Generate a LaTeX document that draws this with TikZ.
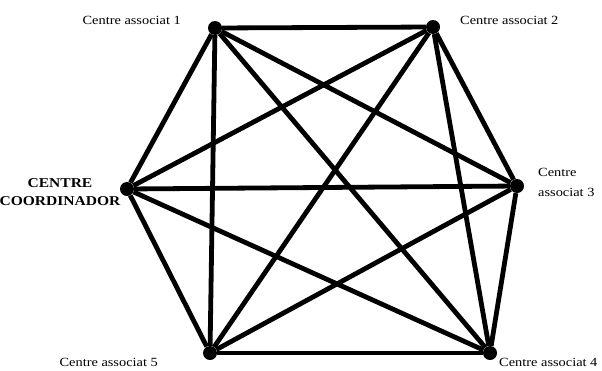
\documentclass[tikz,border=0pt]{standalone}
\usepackage{fontspec}
\setmainfont{Liberation Serif}
\newfontfamily\widefont[FakeStretch=1.15]{Liberation Serif}
\begin{document}
\begin{tikzpicture}[x=1pt,y=-1pt,
  vtx/.style={circle,fill=black,inner sep=0pt,minimum size=14pt},
  edge/.style={line width=4.8pt,black},
  lbl/.style={font=\widefont\fontsize{12.5}{20}\selectfont,inner sep=0pt,align=left},
  blbl/.style={font=\widefont\fontsize{13.5}{18}\bfseries\selectfont,inner sep=0pt,align=center}]
\useasboundingbox (0,0) rectangle (602,370);
\node[vtx] (n1) at (215,28) {};
\node[vtx] (n2) at (433,27) {};
\node[vtx] (n3) at (517,186) {};
\node[vtx] (n4) at (490,353) {};
\node[vtx] (n5) at (210,353) {};
\node[vtx] (c) at (127,189) {};
\foreach \a/\b in {n1/n2,n1/n3,n1/n4,n1/n5,n1/c,n2/n3,n2/n4,n2/n5,n2/c,n3/n4,n3/n5,n3/c,n4/n5,n4/c,n5/c}
  \draw[edge] (\a) -- (\b);
\node[lbl,anchor=base east] (l1) at (181,24) {Centre associat 1};
\node[lbl,anchor=base west] (l2) at (460,24) {Centre associat 2};
\node[lbl,anchor=base west] (l3) at (538,196) {Centre\\associat 3};
\node[lbl,anchor=base west] (l4) at (499,366) {Centre associat 4};
\node[lbl,anchor=base east] (l5) at (158,366) {Centre associat 5};
\node[blbl,anchor=base] (lc) at (60,205) {CENTRE\\COORDINADOR};
\end{tikzpicture}
\end{document}
